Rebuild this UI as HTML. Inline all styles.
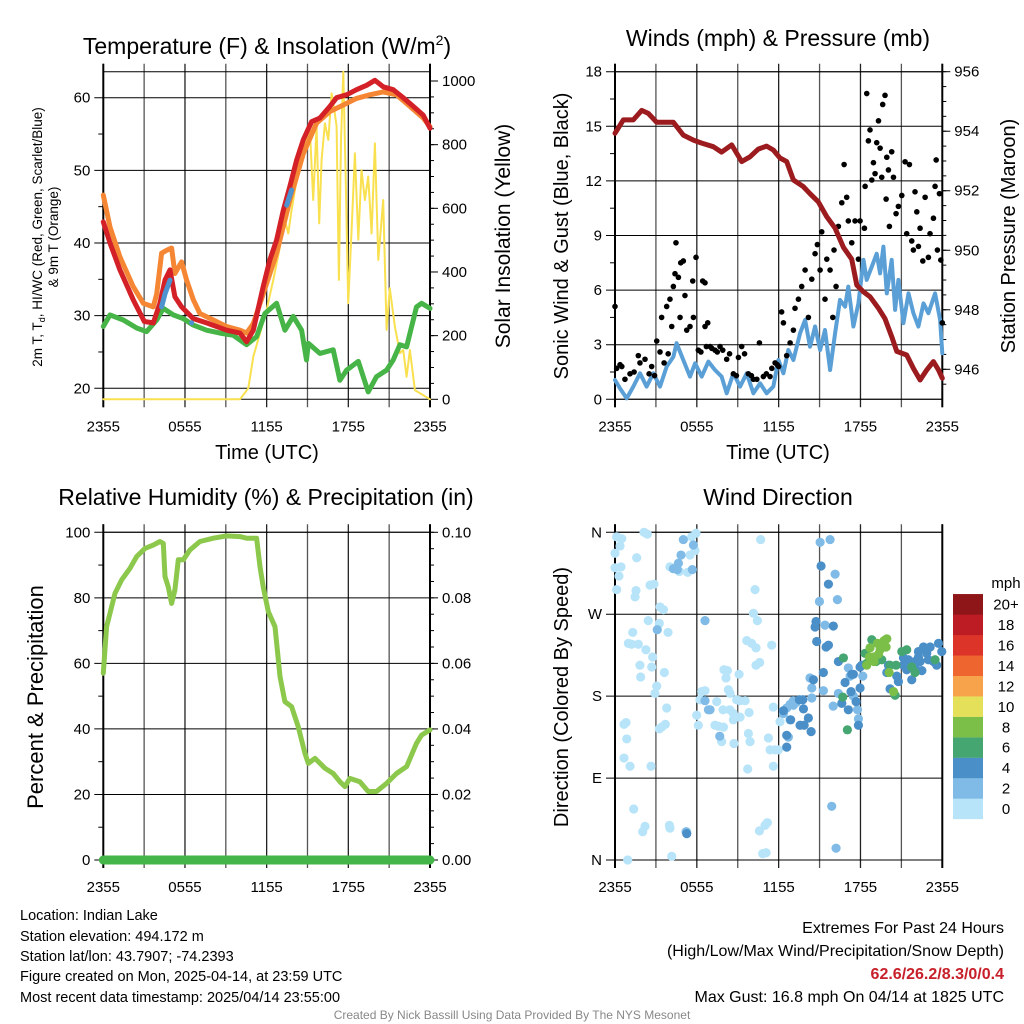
<!DOCTYPE html>
<html><head><meta charset="utf-8"><title>Indian Lake Mesonet</title>
<style>
html,body{margin:0;padding:0;background:#fff;}
svg{display:block;font-family:"Liberation Sans",sans-serif;}
</style></head>
<body>
<svg id="chart" width="1024" height="1024" viewBox="0 0 1024 1024" xmlns="http://www.w3.org/2000/svg">
<rect x="0" y="0" width="1024" height="1024" fill="#fff"/>
<text x="267" y="54" font-size="23" text-anchor="middle">Temperature (F) &amp; Insolation (W/m<tspan font-size="14" dy="-9">2</tspan><tspan dy="9">)</tspan></text>
<text x="778" y="46" font-size="23" text-anchor="middle">Winds (mph) &amp; Pressure (mb)</text>
<text x="266" y="505" font-size="23" text-anchor="middle">Relative Humidity (%) &amp; Precipitation (in)</text>
<text x="778" y="505" font-size="23" text-anchor="middle">Wind Direction</text>

<text transform="translate(42,237) rotate(-90)" font-size="13.5" text-anchor="middle">2m T, T<tspan font-size="9" dy="3">d</tspan><tspan dy="-3">, HI/WC (Red, Green, Scarlet/Blue)</tspan></text>
<text transform="translate(58,237) rotate(-90)" font-size="13.5" text-anchor="middle">&amp; 9m T (Orange)</text>
<text transform="translate(510,236) rotate(-90)" font-size="21" text-anchor="middle">Solar Insolation (Yellow)</text>
<text x="267" y="459" font-size="20" text-anchor="middle">Time (UTC)</text>
<text transform="translate(568,236) rotate(-90)" font-size="20" text-anchor="middle">Sonic Wind &amp; Gust (Blue, Black)</text>
<text transform="translate(1015,236) rotate(-90)" font-size="20" text-anchor="middle">Station Pressure (Maroon)</text>
<text x="778" y="459" font-size="20" text-anchor="middle">Time (UTC)</text>
<text transform="translate(43,697) rotate(-90)" font-size="22" text-anchor="middle">Percent &amp; Precipitation</text>
<text transform="translate(568,697) rotate(-90)" font-size="20" text-anchor="middle">Direction (Colored By Speed)</text>
<text x="1006" y="588" font-size="15" text-anchor="middle">mph</text>

<g font-size="14.5">
<text x="20" y="920">Location: Indian Lake</text>
<text x="20" y="941">Station elevation: 494.172 m</text>
<text x="20" y="961">Station lat/lon: 43.7907; -74.2393</text>
<text x="20" y="981">Figure created on Mon, 2025-04-14, at 23:59 UTC</text>
<text x="20" y="1002">Most recent data timestamp: 2025/04/14 23:55:00</text>
</g>
<g font-size="16" text-anchor="end">
<text x="1004" y="933">Extremes For Past 24 Hours</text>
<text x="1004" y="956">(High/Low/Max Wind/Precipitation/Snow Depth)</text>
<text x="1004" y="979" fill="#c8202a" font-weight="bold">62.6/26.2/8.3/0/0.4</text>
<text x="1004" y="1002">Max Gust: 16.8 mph On 04/14 at 1825 UTC</text>
</g>
<text x="512" y="1019" font-size="12" fill="#888" text-anchor="middle">Created By Nick Bassill Using Data Provided By The NYS Mesonet</text>
</svg>
<script>
// ---------- Panel 1 data ----------
const tempHours=[0,0.49,1.22,2.2,3.01,3.67,4.16,4.53,4.9,5.26,5.75,6.61,7.59,9.06,10.04,10.53,11.02,11.75,12.24,12.73,13.22,13.71,14.2,14.69,15.3,15.91,16.65,17.14,17.87,18.6,19.34,19.95,20.56,21.3,22.03,22.77,23.5,24];
const tempValues=[42.9,40,36.3,32.2,29.2,29,31.7,34.9,36.3,32.6,31.2,29.6,29,28,27.6,26.4,28,34,37.7,40.4,44.5,47.8,51.4,54.2,56.7,57.2,58.8,60,60.4,61.1,61.7,62.4,61.5,61.1,60,58.8,57.6,55.8];
const t9Hours=[0,0.49,1.22,2.2,2.94,3.67,3.92,4.28,4.65,5.02,5.26,5.75,6.12,6.61,7.1,8.08,9.06,10.04,10.53,11.02,11.75,12.73,13.71,14.69,15.67,16.65,17.63,18.6,19.58,20.56,21.54,22.52,23.5,24];
const t9Values=[46.6,42.2,38.1,34,31.7,31.2,33,38.6,39,39.3,35.8,37.4,34.9,32.2,30.3,29.4,28.5,28,27.6,28.9,33,38.6,45.9,52.3,56.5,58.1,59,59.9,60.4,60.8,60.4,58.8,57.2,56];
const tdHours=[0,0.49,1.47,2.45,3.18,3.92,4.41,5.14,5.88,6.61,7.59,8.57,9.55,10.53,11.26,11.87,12.73,13.34,13.95,14.57,14.93,15.06,15.91,16.89,17.38,17.87,18.73,19.46,20.07,20.81,21.3,21.79,22.28,23.01,23.38,24];
const tdValues=[28.5,30.1,29.4,28.3,27.8,29.4,31,30.1,29.6,28.7,28,27.6,27.3,26,27.1,30.3,31.7,28,29.9,28,23.9,26.2,24.8,25.3,21.1,22.5,23.7,19.5,21.6,22.5,23.9,26,25.7,31.2,31.7,31];
const hiSeg1Hours=[4.28,4.53,4.9];
const hiSeg1Values=[31.2,33,34.9];
const hiSeg2Hours=[13.47,13.83];
const hiSeg2Values=[45.2,47.3];
const hiDotHours=[6.49];
const hiDotValues=[29];
const solarHours=[0,10.04,10.65,11.02,11.51,12,12.49,12.98,13.34,13.59,13.83,14.2,14.69,15.18,15.42,15.67,15.86,16.04,16.28,16.53,16.77,16.94,17.14,17.31,17.46,17.63,17.8,17.99,18.24,18.48,18.73,18.97,19.22,19.46,19.71,19.95,20.2,20.56,20.81,21.05,21.42,21.79,22.03,22.28,22.52,22.89,24];
const solarValues=[0,0,35,134,207,281,375,480,563,521,595,689,794,846,626,857,553,752,867,815,961,919,857,375,815,1029,710,302,532,773,501,720,626,700,521,804,438,626,218,349,228,145,155,71,155,29,0];
// ---------- Panel 2 data ----------
const presHours=[0,0.61,1.34,1.96,2.44,3.06,3.79,4.28,5.01,5.75,6.36,7.21,7.82,8.56,9.29,9.9,10.51,11.12,11.61,12.1,12.59,13.08,13.81,14.3,14.91,15.52,16.14,16.75,17.36,17.73,18.22,18.7,19.32,19.8,20.29,20.66,21.39,21.88,22.37,22.86,23.35,23.72,24];
const presValues=[953.93,954.38,954.38,954.7,954.6,954.3,954.3,954.3,953.87,953.7,953.6,953.48,953.3,953.54,952.98,953.14,953.4,953.5,953.37,953.1,952.98,952.36,952.14,951.9,951.63,951.13,950.74,950.1,949.7,948.83,948.6,948.44,948.05,947.7,947.1,946.6,946.48,946.03,945.64,945.98,946.26,945.98,945.7];
const windHours=[0,0.37,0.86,1.34,1.83,2.32,2.81,3.3,3.79,4.28,4.52,5.01,5.5,5.87,6.36,6.85,7.33,7.82,8.19,8.68,9.17,9.66,10.15,10.64,11.12,11.61,11.98,12.35,12.71,13.08,13.57,13.94,14.3,14.67,15.04,15.4,15.77,16.14,16.5,16.87,17.11,17.48,17.85,18.22,18.46,18.83,19.19,19.44,19.68,19.93,20.29,20.54,20.78,21.15,21.52,21.88,22.25,22.62,22.98,23.47,23.84,24];
const windValues=[1.06,0.6,0.05,0.7,1.43,0.7,1.43,0.7,1.8,2.34,3.08,2.16,1.25,1.98,1.25,2.07,1.61,1.25,0.33,1.43,0.7,1.43,0.33,0.88,0.33,0.7,2.16,1.43,2.71,2.16,3.63,4.36,2.89,4,2.71,3.81,1.61,3.63,5.46,5.09,6.19,4,5.27,7.66,6.56,7.29,8,6.92,8.39,5.82,7.66,4.91,6.56,4.18,5.82,4.73,4,5.27,4.73,5.82,4.36,2.53];
const gustHours=[0,0.12,0.37,0.73,1.1,1.71,1.83,2.2,2.69,3.06,3.42,3.79,4.03,4.16,4.28,4.4,4.47,4.65,4.77,4.82,5.01,5.13,5.26,5.5,5.7,5.75,5.94,6.11,6.43,6.6,6.6,6.8,6.97,7.33,7.7,8.19,8.68,9.05,9.29,9.78,10.15,10.59,10.88,11.37,11.74,12.22,12.35,12.59,12.84,13.08,13.2,13.45,13.69,13.94,14.18,14.43,14.67,14.84,15.04,15.16,15.4,15.53,15.77,15.97,16.06,16.21,16.38,16.63,16.8,16.99,17.11,17.36,17.6,17.85,17.97,18.29,18.34,18.46,18.58,18.7,18.83,18.95,19.07,19.19,19.32,19.44,19.56,19.63,19.8,19.88,19.93,20.05,20.12,20.29,20.42,20.61,20.78,21.03,21.27,21.39,21.59,21.76,21.88,22,22.13,22.25,22.37,22.57,22.74,22.98,23.1,23.35,23.47,23.55,23.64,23.79,23.89,24,0.5,1.4,2.5,2.9,3.3,3.6,3.9,6.3,6.7,7.1,7.5,7.9,8.4,8.9,9.5,10,10.4,11.1,11.5,11.9,12];
const gustValues=[5.1,1.7,1.9,1.1,1.4,2.4,2,2.2,1.8,3.2,4.5,5.1,5.5,4,6.2,6.9,8.6,6.7,4.5,7.5,7.6,5.7,3.8,4,6.5,4.5,7.8,2.7,6.5,6.4,4,4.2,2.9,2.7,2.9,2.2,1.4,2.3,2.9,1.4,1.1,3.1,1.25,1.25,2,4.8,4.2,2.4,3.1,3.8,5,5.5,6.2,7.1,4.5,6.6,8,8.5,7.1,9.2,5.5,7.7,7.1,4.5,8.2,6.2,9.5,10.8,12.9,11.1,9.8,8.6,9.8,7.7,9.8,9.4,11.7,16.8,14.2,14.8,12.05,13,12.4,14.1,15.3,13.8,12.2,16.2,16.7,11,13.3,12.6,9.5,13.6,12.2,10.2,10.6,11.2,13.05,9.1,12.9,8.7,8.2,11.4,10.3,8.4,9.4,7.6,11.1,7.8,9.1,9.95,11.7,13.15,8.2,11.3,7.65,4.2,1.8,1.5,1.4,1.3,2.6,2,2.5,2.6,2.9,2.8,2.6,2.7,2.5,1.3,2.5,1.3,1.1,1.4,1.7,1.9,1.8];
// ---------- Panel 3 data ----------
const rhHours=[0,0.24,0.49,0.86,1.35,1.96,2.45,3.06,3.67,4.16,4.41,4.53,4.77,5.02,5.26,5.51,5.88,6.36,7.1,8.08,9.06,10.04,10.53,11.26,11.51,11.75,12.12,12.61,12.98,13.34,13.83,14.32,14.81,15.06,15.55,16.28,16.89,17.38,17.75,18.11,18.85,19.46,20.07,20.81,21.54,22.28,23.01,23.38,24];
const rhValues=[57,71.2,75.3,81.4,85.5,89,92.6,95.1,96.1,97.2,96.6,86.5,83.4,78.3,82.4,91.6,91.6,94.6,97.2,98.2,98.9,98.7,98.2,98.2,89.5,83.4,75.8,71.2,56,48.3,46.8,40.7,32.6,29.5,31,28,26.4,23.9,22.4,24.9,23.9,20.9,20.9,23.4,26.4,28.5,35.6,38.1,39.7];
const precipHours=[0,24];
const precipValues=[0,0];
// ---------- Panel 4 data ----------
const dirHours=[0.12,0.49,0.37,0,0,0.44,0.29,0.12,1.59,1.54,1.47,2.13,2.37,2.57,2.86,3.3,3.55,2.44,3.25,3.89,1.3,0.98,1.22,1.71,2.27,2.76,1.83,2.69,1.88,3.62,3.06,2.93,3.79,0.81,0.66,0.86,0.66,1.1,2.64,3.25,3.42,3.69,1.37,2.2,2.03,3.99,4.03,4.16,0.93,5.26,4.03,4.72,5.33,5.5,5.62,5.94,5.87,10.68,10.27,10.15,10.44,9.66,10.02,10.34,11.49,10.34,10.61,9.1,7.99,8.24,8.14,8.31,8.44,8.92,9.17,9.54,7.92,8.41,8.68,9.17,9.83,6.36,6.23,5.99,6.11,7.46,7.33,7.58,7.95,8.68,8.72,7.82,9.78,9.9,9.73,11.25,11.37,11.74,11.98,11.61,11.61,12.1,10.59,11,11.17,10.83,11.08,6.6,
4.28,4.47,4.57,4.65,4.84,5.01,5.75,5.67,5.21,6.6,3.1,6.6,6.97,6.85,7.68,15.77,15.04,16.14,16.31,14.99,15.4,15.28,14.43,14.43,14.3,12.59,12.84,13.08,13.28,13.08,12.35,12.84,12.71,15.89,16.21,16,16.38,17.11,17.24,17.78,17.85,18.17,17.48,
15.11,15.65,14.74,14.67,14.79,15.48,15.65,16.01,15.28,14.55,13.77,13.52,13.82,14.18,13.57,13.87,12.88,12.59,12.59,12.35,14.38,16.63,16.87,17.36,17.48,17.31,17.68,17.11,17.97,17.97,18.09,17.85,16.38,20.05,19.93,20.66,20.78,20.17,21.15,21.39,21.76,21.51,22,22.25,22.62,22.86,23.11,23.35,23.59,23.72,23.96,22.5,22,22.25,21.15,22.98,22.37,5.26,
16.75,16.7,17.04,18.34,18.83,18.46,19.14,19.56,20.17,20.61,20.54,21.03,21.39,21.76,22,23.47,
18.46,18.7,18.95,19.24,19.44,19.56,19.73,19.93,19,19.32,20.1,20.42,19.88,18.65];
const dirDegrees=[355,353,345,337,321,322,312,297,332,296,289,360,358,302,303,278,275,263,260,250,250,238,237,237,231,223,214,212,201,206,191,183,167,151,149,133,112,103,103,144,146,149,56,37,31,38,35,4,0,31,322,317,316,335,355,359,340,352,297,271,263,241,238,233,236,214,217,204,209,208,200,187,183,176,175,175,165,165,161,157,162,185,176,159,148,174,148,147,146,154,128,130,139,130,100,134,121,121,121,103,168,152,32,38,41,7,8,186,
320,321,319,326,335,352,346,319,31,263,253,175,165,165,136,352,349,314,286,284,258,186,178,189,200,167,171,170,173,175,161,154,135,59,13,169,183,211,202,165,155,202,180,
323,303,262,256,240,234,236,257,206,198,176,176,166,156,148,148,154,137,124,164,141,172,195,204,204,185,174,165,189,212,214,148,218,214,206,202,196,188,222,209,198,220,218,229,234,227,234,218,214,238,229,208,212,223,214,220,218,29,
222,179,143,227,242,216,218,220,214,214,181,229,231,212,206,220,
214,233,223,238,231,238,241,243,218,226,206,185,234,223];
const dirSpeeds=[1,1,1,1,1,1,1,1,1,1,1,1,1,1,1,1,1,1,1,1,1,1,1,1,1,1,1,1,1,1,1,1,1,1,1,1,1,1,1,1,1,1,1,1,1,1,1,1,1,1,1,1,1,1,1,1,1,1,1,1,1,1,1,1,1,1,1,1,1,1,1,1,1,1,1,1,1,1,1,1,1,1,1,1,1,1,1,1,1,1,1,1,1,1,1,1,1,1,1,1,1,1,1,1,1,1,1,1,
3,3,3,3,3,3,3,3,3,3,3,3,3,3,3,3,3,3,3,3,3,3,3,3,3,3,3,3,3,3,3,3,3,3,3,3,3,3,3,3,3,3,3,
5,5,5,5,5,5,5,5,5,5,5,5,5,5,5,5,5,5,5,5,5,5,5,5,5,5,5,5,5,5,5,5,5,5,5,5,5,5,5,5,5,5,5,5,5,5,5,5,5,5,5,5,5,5,5,5,5,5,
7,7,7,7,7,7,7,7,7,7,7,7,7,7,7,7,
9,9,9,9,9,9,9,9,9,9,9,9,9,9];
const timeTickLabels=['2355','0555','1155','1755','2355'];
const speedBinLabels=['0','2','4','6','8','10','12','14','16','18','20+'];
const speedBinColors=['#b8e4f9','#7fbbe6','#4b8fc8','#46a671','#7bbf48','#e5e05a','#f6a34b','#ee6530','#dc3428','#bd1c25','#8e1518'];
const dirTickLabels=['N','E','S','W','N'];

const NS='http://www.w3.org/2000/svg';
const svg=document.getElementById('chart');
function mk(tag,attrs,name,parent){
  const e=document.createElementNS(NS,tag);
  for(const k in attrs) e.setAttribute(k,attrs[k]);
  
  
  (parent||svg).appendChild(e);
  return e;
}
function txt(x,y,s,anchor,size,name,parent){
  const t=mk('text',{x:x,y:y,'font-size':size,'text-anchor':anchor},name,parent);
  t.textContent=s;return t;
}
function panel(P,name){
  const g=mk('g',{},name);
  P.xs=h=>P.x0+h*(P.x1-P.x0)/24;
  for(let i=0;i<=8;i++){
    const x=P.xs(i*3);
    mk('line',{x1:x,x2:x,y1:P.yt-8,y2:P.yb+8,stroke:(i%2?'#555':'#222'),'stroke-width':1.3},'x-gridline',g);
  }
  for(let i=0;i<timeTickLabels.length;i++){
    txt(P.xs(i*6),P.yb+32,timeTickLabels[i],'middle',15,'x-tick-label',g);
  }
  mk('line',{x1:P.x0,x2:P.x1,y1:P.yt,y2:P.yt,stroke:'#000','stroke-width':1},'plot-top-border',g);
  mk('line',{x1:P.x0,x2:P.x1,y1:P.yb,y2:P.yb,stroke:'#000','stroke-width':1},'plot-bottom-border',g);
  mk('line',{x1:P.x0,x2:P.x0,y1:P.yt-8,y2:P.yb+8,stroke:'#000','stroke-width':2},'left-axis-line',g);
  mk('line',{x1:P.x1,x2:P.x1,y1:P.yt-8,y2:P.yb+8,stroke:'#000','stroke-width':2},'right-axis-line',g);
  P.left.forEach(t=>{
    const y=P.ly(t.v);
    mk('line',{x1:P.x0-9,x2:P.x1,y1:y,y2:y,stroke:'#000','stroke-width':1},'y-gridline',g);
    txt(P.x0-13,y+5,t.l,'end',15,'left-tick-label',g);
  });
  (P.leftMinor||[]).forEach(v=>{const y=P.ly(v);mk('line',{x1:P.x0-5,x2:P.x0,y1:y,y2:y,stroke:'#000'},'left-minor-tick',g);});
  (P.right||[]).forEach(t=>{
    const y=P.ry(t.v);
    mk('line',{x1:P.x1,x2:P.x1+8,y1:y,y2:y,stroke:'#000'},'right-tick',g);
    txt(P.x1+12,y+5,t.l,'start',15,'right-tick-label',g);
  });
  (P.rightMinor||[]).forEach(v=>{const y=P.ry(v);mk('line',{x1:P.x1,x2:P.x1+4,y1:y,y2:y,stroke:'#000'},'right-minor-tick',g);});
  return g;
}
function line(P,hs,vs,scale,color,w,name,g){
  const d=hs.map((h,i)=>(i?'L':'M')+P.xs(h).toFixed(1)+','+scale(vs[i]).toFixed(1)).join(' ');
  return mk('path',{d:d,fill:'none',stroke:color,'stroke-width':w,'stroke-linejoin':'round','stroke-linecap':'round'},name,g);
}
function range(a,b,s){const r=[];for(let v=a;v<=b+1e-9;v+=s)r.push(+v.toFixed(4));return r;}

const P1={x0:103.3,x1:430,yt:71.7,yb:399.3,ly:v=>388.3-(v-20)*7.265,ry:v=>399.3-v*0.3183};
P1.left=[20,30,40,50,60].map(v=>({v:v,l:String(v)}));
P1.leftMinor=[25,35,45,55];
P1.right=[0,200,400,600,800,1000].map(v=>({v:v,l:String(v)}));
P1.rightMinor=range(50,1000,50);
const g1=panel(P1,'temperature-panel');
line(P1,solarHours,solarValues,P1.ry,'#f9e04f',2,'solar-insolation-line',g1);
line(P1,tdHours,tdValues,P1.ly,'#46b446',5,'dewpoint-line',g1);
line(P1,t9Hours,t9Values,P1.ly,'#f58634',5,'temp-9m-line',g1);
line(P1,tempHours,tempValues,P1.ly,'#d42127',5,'temp-2m-line',g1);
line(P1,hiSeg1Hours,hiSeg1Values,P1.ly,'#4d93cf',5,'windchill-line',g1);
line(P1,hiSeg2Hours,hiSeg2Values,P1.ly,'#4d93cf',5,'windchill-line',g1);
hiDotHours.forEach((h,i)=>{mk('circle',{cx:P1.xs(h),cy:P1.ly(hiDotValues[i]),r:2.5,fill:'#4d93cf'},'windchill-point',g1);});

const P2={x0:615,x1:942.3,yt:71.7,yb:399.3,ly:v=>399.3-v*18.2,ry:v=>71.7+(956-v)*29.76};
P2.left=range(0,18,3).map(v=>({v:v,l:String(v)}));
P2.leftMinor=range(1.5,16.5,3);
P2.right=[946,948,950,952,954,956].map(v=>({v:v,l:String(v)}));
P2.rightMinor=range(945.5,956,0.5);
const g2=panel(P2,'wind-panel');
line(P2,windHours,windValues,P2.ly,'#5a9fd6',4,'sonic-wind-line',g2);
gustHours.forEach((h,i)=>{mk('circle',{cx:P2.xs(h),cy:P2.ly(gustValues[i]),r:2.8,fill:'#000'},'gust-point',g2);});
line(P2,presHours,presValues,P2.ry,'#9b1b1e',5,'pressure-line',g2);

const P3={x0:103.3,x1:430,yt:532.3,yb:860,ly:v=>860-v*3.277,ry:v=>860-v*3277};
P3.left=range(0,100,20).map(v=>({v:v,l:String(v)}));
P3.leftMinor=range(10,90,20);
P3.right=range(0,0.1,0.02).map(v=>({v:v,l:v.toFixed(2)}));
P3.rightMinor=range(0.005,0.1,0.005);
const g3=panel(P3,'humidity-panel');
line(P3,rhHours,rhValues,P3.ly,'#8cc84b',5,'relative-humidity-line',g3);
line(P3,precipHours,precipValues,P3.ry,'#44b548',9,'precipitation-line',g3);

const P4={x0:615,x1:942.3,yt:532.3,yb:860,ly:v=>860-v*0.9103};
P4.left=[0,90,180,270,360].map((v,i)=>({v:v,l:dirTickLabels[i]}));
const g4=panel(P4,'direction-panel');
dirHours.forEach((h,i)=>{
  const c=speedBinColors[Math.min(10,Math.floor(dirSpeeds[i]/2))];
  mk('circle',{cx:P4.xs(h),cy:P4.ly(dirDegrees[i]),r:4.6,fill:c},'direction-point',g4);
});
const cb=mk('g',{},'speed-colorbar');
speedBinLabels.forEach((l,i)=>{
  const y=819-(i+1)*20.45;
  mk('rect',{x:953,y:y,width:30,height:20.6,fill:speedBinColors[i]},'colorbar-bin',cb);
  txt(1006,y+15.5,l,'middle',15,'colorbar-label',cb);
});
</script>
</body></html>
